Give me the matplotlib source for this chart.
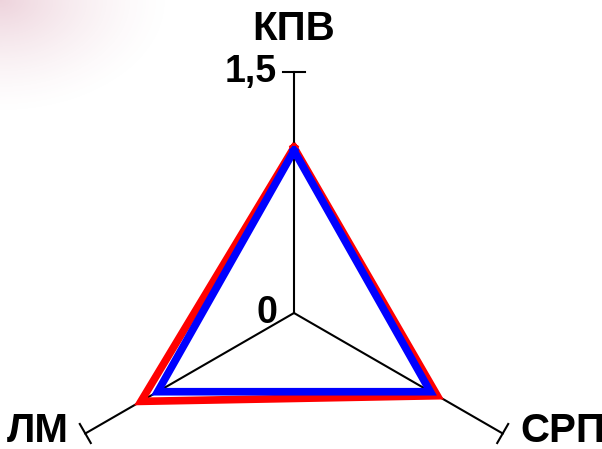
import numpy as np
import matplotlib
matplotlib.use('Agg')
from matplotlib import pyplot as plt

# radar chart data (axes clockwise from top)
categories = ['КПВ', 'СРП', 'ЛМ']
angles_deg = [90, -30, 210]
red_vals = [1.03, 1.03, 1.10]
blue_vals = [1.01, 0.98, 0.98]
r_max = 1.5
tick_labels = ['0', '1,5']

fig = plt.figure(figsize=(6.02, 4.49), dpi=100)

# faint pink blur in the top-left corner of the slide
bg = fig.add_axes([0, 0, 1, 1])
bg.set_axis_off()
h, w = 449, 602
yy, xx = np.mgrid[0:h, 0:w]
d = np.sqrt((xx / 1.5) ** 2 + (yy / 1.0) ** 2)
alpha = np.clip(1 - d / 115.0, 0, 1) ** 1.5 * 0.38
img = np.zeros((h, w, 4))
img[..., 0] = 0.82
img[..., 1] = 0.55
img[..., 2] = 0.64
img[..., 3] = alpha
bg.imshow(img, extent=[0, w, h, 0], aspect='auto')
bg.set_xlim(0, w)
bg.set_ylim(h, 0)

ax = fig.add_axes([0, 0, 1, 1])
ax.patch.set_alpha(0)
ax.set_axis_off()
scale = 241 / r_max  # pixels per unit
ax.set_xlim(-294 / scale, (602 - 294) / scale)
ax.set_ylim(-(449 - 313) / scale, 313 / scale)

theta = np.radians(angles_deg)
ux, uy = np.cos(theta), np.sin(theta)

# spokes and end ticks
tick_half = 11 / scale
for i in range(3):
    ax.plot([0, r_max * ux[i]], [0, r_max * uy[i]], color='black', lw=1.5, zorder=2)
    ex, ey = r_max * ux[i], r_max * uy[i]
    px, py = -uy[i], ux[i]
    ax.plot([ex - tick_half * px, ex + tick_half * px],
            [ey - tick_half * py, ey + tick_half * py], color='black', lw=1.5, zorder=2)


def polygon(vals):
    v = np.array(vals + vals[:1])
    th = np.concatenate([theta, theta[:1]])
    return v * np.cos(th), v * np.sin(th)


rx, ry = polygon(red_vals)
ax.plot(rx, ry, color='#ff0000', lw=5.5, solid_joinstyle='miter', zorder=3)
bx, by = polygon(blue_vals)
ax.plot(bx, by, color='#0000ff', lw=5.5, solid_joinstyle='miter', zorder=4)

# value labels on the top axis
ax.text(-17 / scale, 0, tick_labels[0], ha='right', va='center', fontsize=27,
        fontweight='bold', family='Liberation Sans')
ax.text(-17 / scale, r_max, tick_labels[1], ha='right', va='center', fontsize=27,
        fontweight='bold', family='Liberation Sans')

# category labels
lab_kw = dict(fontsize=29, fontweight='bold', family='Liberation Sans')
ax.text(0, r_max + 43 / scale, categories[0], ha='center', va='center', **lab_kw)
ax.text(r_max * ux[1] + 18 / scale, r_max * uy[1] + 3 / scale, categories[1],
        ha='left', va='center', **lab_kw)
ax.text(r_max * ux[2] - 16 / scale, r_max * uy[2] + 3 / scale, categories[2],
        ha='right', va='center', **lab_kw)

fig.savefig('out.png', dpi=100)
